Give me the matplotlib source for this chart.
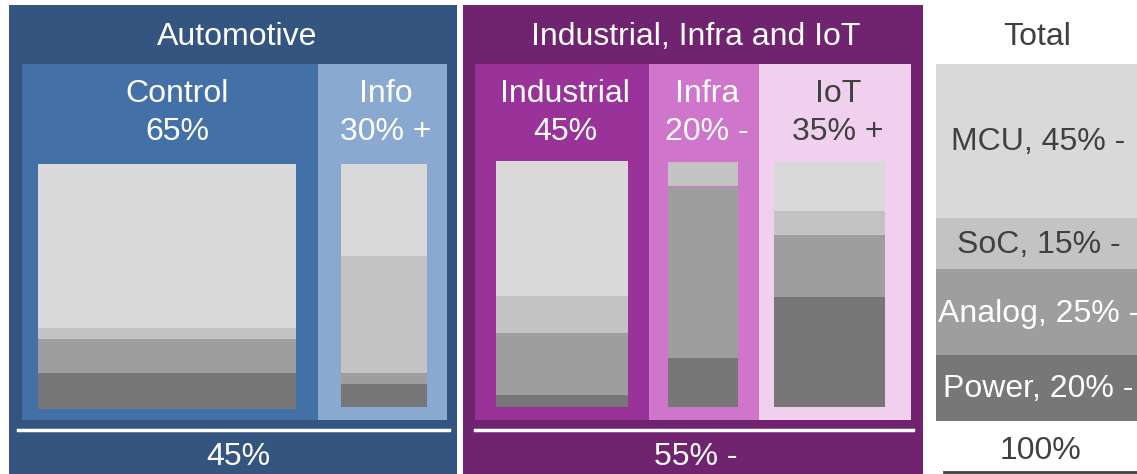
import matplotlib.pyplot as plt
from matplotlib.patches import Rectangle

W, H = 1137, 474

# segments, stacked top to bottom
segments = ['MCU', 'SoC', 'Analog', 'Power']
seg_colors = ['#d9d9d9', '#c3c3c3', '#9e9e9e', '#777777']

# share of each segment per market (%)
control = [67, 4.5, 14, 14.5]
info = [38, 48, 4.5, 9.5]
industrial = [55, 15, 25, 5]
infra = [0, 10, 70, 20]
iot = [20, 10, 25, 45]
total = [43, 14.5, 24, 18.5]

total_labels = ['MCU, 45% -', 'SoC, 15% -', 'Analog, 25% -', 'Power, 20% -']
total_label_colors = ['#404040', '#404040', 'white', 'white']

plt.rcParams['font.family'] = ['Liberation Sans', 'DejaVu Sans']
FS = 23

fig = plt.figure(figsize=(W / 100, H / 100), dpi=100)
bg = fig.add_axes([0, 0, 1, 1])
bg.set_xlim(0, W)
bg.set_ylim(H, 0)
bg.axis('off')


def box(x0, y0, x1, y1, color):
    bg.add_patch(Rectangle((x0, y0), x1 - x0, y1 - y0, color=color, lw=0))


def label(x, y, s, color='white', size=FS):
    bg.text(x, y + 2, s, color=color, fontsize=size, ha='center', va='center')


def stacked(x0, y0, x1, y1, values):
    ax = fig.add_axes([x0 / W, 1 - y1 / H, (x1 - x0) / W, (y1 - y0) / H])
    bottom = 0
    for v, c in zip(values[::-1], seg_colors[::-1]):
        ax.bar(0, v, bottom=bottom, width=1, color=c, linewidth=0)
        bottom += v
    ax.set_xlim(-0.5, 0.5)
    ax.set_ylim(0, sum(values))
    ax.axis('off')
    return ax


# Automotive group
box(9, 5, 457, 474, '#34557f')
box(22, 64, 318, 420, '#4470a8')
box(318, 64, 447, 420, '#8aa9d0')
label(237, 35, 'Automotive')
label(177, 92, 'Control')
label(177, 130, '65%')
label(386, 92, 'Info')
label(386, 130, '30% +')
bg.plot([18, 449], [430, 430], color='white', lw=2.5)
label(238, 455, '45%')
stacked(38, 164, 296, 409, control)
stacked(341, 164, 427, 407, info)

# Industrial, Infra and IoT group
box(463, 5, 923, 474, '#70246f')
box(475, 64, 649, 420, '#993399')
box(649, 64, 759, 420, '#d075cc')
box(759, 64, 911, 420, '#f0d0ee')
label(696, 35, 'Industrial, Infra and IoT')
label(565, 92, 'Industrial')
label(565, 130, '45%')
label(707, 92, 'Infra')
label(707, 130, '20% -')
label(838, 92, 'IoT', color='#404040')
label(838, 130, '35% +', color='#404040')
bg.plot([475, 913], [430, 430], color='white', lw=2.5)
label(696, 455, '55% -')
stacked(496, 161, 628, 407, industrial)
stacked(668, 162, 738, 407, infra)
stacked(774, 162, 885, 407, iot)

# Total column
label(1037, 35, 'Total', color='#404040')
tax = stacked(936, 64, 1137, 421, total)
top = sum(total)
for v, s, c in zip(total, total_labels, total_label_colors):
    tax.text(0.01, top - v / 2 - 0.4, s, color=c, fontsize=FS, ha='center',
             va='center', clip_on=False)
    top -= v
label(1040, 449, '100%', color='#404040')
bg.plot([944, 1137], [472, 472], color='#404040', lw=2)

fig.savefig('out.png', dpi=100)
